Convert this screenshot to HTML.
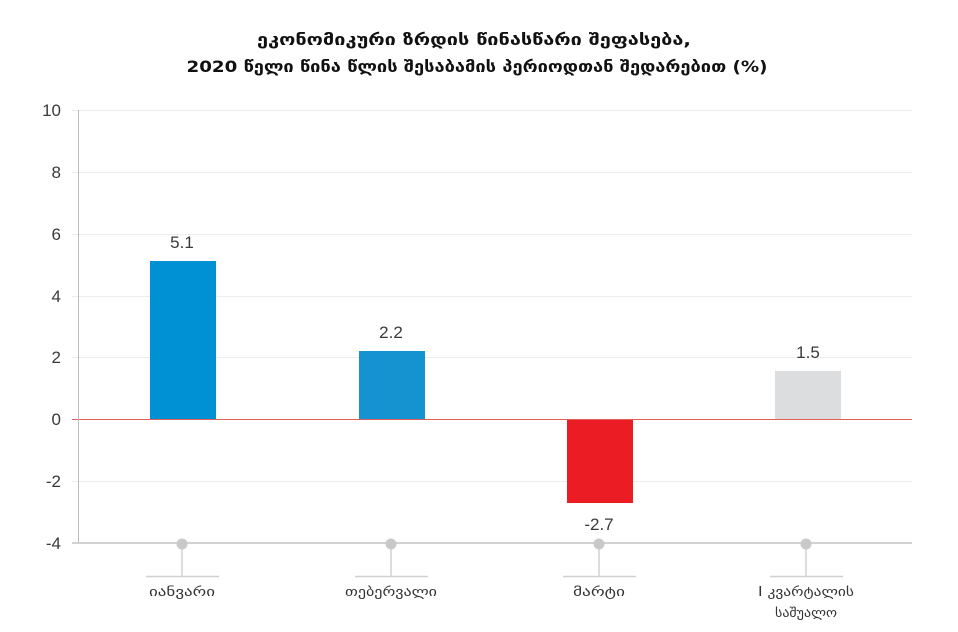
<!DOCTYPE html>
<html><head><meta charset="utf-8"><style>
html,body{margin:0;padding:0;background:#fff;}
svg{display:block;}
</style></head><body>
<svg width="958" height="632" viewBox="0 0 958 632" xmlns="http://www.w3.org/2000/svg">
<rect width="958" height="632" fill="#fff"/>
<g font-family="'DejaVu Sans','Liberation Sans',sans-serif" font-weight="bold" fill="#111" font-size="16" text-anchor="middle">
<text x="474" y="45" textLength="434" lengthAdjust="spacingAndGlyphs">ეკონომიკური ზრდის წინასწარი შეფასება,</text>
<text x="477" y="72" textLength="581" lengthAdjust="spacingAndGlyphs">2020 წელი წინა წლის შესაბამის პერიოდთან შედარებით (%)</text>
</g>
<!-- gridlines -->
<g stroke="#ececec" stroke-width="1">
<line x1="72" y1="110.5" x2="912" y2="110.5"/>
<line x1="72" y1="172.5" x2="912" y2="172.5"/>
<line x1="72" y1="234.5" x2="912" y2="234.5"/>
<line x1="72" y1="296.5" x2="912" y2="296.5"/>
<line x1="72" y1="357.5" x2="912" y2="357.5"/>
<line x1="72" y1="481.5" x2="912" y2="481.5"/>
</g>
<!-- bars -->
<rect x="150" y="261" width="66" height="158" fill="#0091d5"/>
<rect x="359" y="351" width="66" height="68" fill="#1593d0"/>
<rect x="567" y="419" width="66" height="84" fill="#ec1c24"/>
<rect x="775" y="371" width="66" height="48" fill="#dcddde"/>
<!-- zero line -->
<rect x="72" y="419" width="840" height="1" fill="#e0605e"/>
<!-- y axis -->
<line x1="78.5" y1="110" x2="78.5" y2="543" stroke="#bdbdbd" stroke-width="1"/>
<line x1="72" y1="543" x2="912" y2="543" stroke="#d2d2d2" stroke-width="2"/>
<!-- y labels -->
<g font-family="'Liberation Sans',sans-serif" font-size="17" fill="#3a3a3a" text-anchor="end">
<text x="61" y="116">10</text>
<text x="61" y="178">8</text>
<text x="61" y="240">6</text>
<text x="61" y="302">4</text>
<text x="61" y="363">2</text>
<text x="61" y="425">0</text>
<text x="61" y="487">-2</text>
<text x="61" y="549">-4</text>
</g>
<!-- value labels -->
<g font-family="'Liberation Sans',sans-serif" font-size="17" fill="#3a3a3a" text-anchor="middle">
<text x="182" y="248">5.1</text>
<text x="391" y="338">2.2</text>
<text x="599" y="530">-2.7</text>
<text x="808" y="358">1.5</text>
</g>
<!-- category markers -->
<g stroke="#d0d0d0" stroke-width="1.5">
<line x1="182" y1="544" x2="182" y2="576"/>
<line x1="146" y1="576.5" x2="219" y2="576.5"/>
<line x1="391" y1="544" x2="391" y2="576"/>
<line x1="355" y1="576.5" x2="428" y2="576.5"/>
<line x1="599" y1="544" x2="599" y2="576"/>
<line x1="563" y1="576.5" x2="636" y2="576.5"/>
<line x1="806" y1="544" x2="806" y2="576"/>
<line x1="770" y1="576.5" x2="843" y2="576.5"/>
</g>
<g fill="#c8c9cb">
<circle cx="182" cy="544" r="5.5"/>
<circle cx="391" cy="544" r="5.5"/>
<circle cx="599" cy="544" r="5.5"/>
<circle cx="806" cy="544" r="5.5"/>
</g>
<g font-family="'DejaVu Sans','Liberation Sans',sans-serif" font-size="13" fill="#333" text-anchor="middle">
<text x="182" y="596" textLength="66" lengthAdjust="spacingAndGlyphs">იანვარი</text>
<text x="391" y="596" textLength="92" lengthAdjust="spacingAndGlyphs">თებერვალი</text>
<text x="599" y="596" textLength="52" lengthAdjust="spacingAndGlyphs">მარტი</text>
<text x="806" y="596" textLength="96" lengthAdjust="spacingAndGlyphs">I კვარტალის</text>
<text x="806" y="617" textLength="62" lengthAdjust="spacingAndGlyphs">საშუალო</text>
</g>
</svg>
</body></html>
